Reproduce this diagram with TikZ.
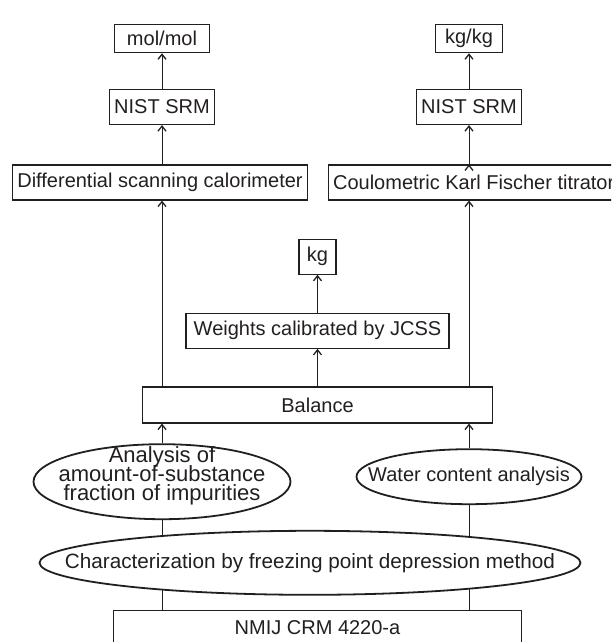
\documentclass[tikz,border=0pt]{standalone}
\usepackage{fontspec}
\setmainfont{Liberation Sans}
\usetikzlibrary{positioning,shapes.geometric,arrows.meta}
\definecolor{ink}{HTML}{231F20}
\pgfdeclarelayer{bg}
\pgfsetlayers{bg,main}

\tikzset{
  unit/.style={draw=ink,line width=1.2pt,fill=white,inner xsep=4.5pt,minimum height=35pt},
  method/.style={draw=ink,ellipse,line width=1.8pt,fill=white,inner sep=-70pt,align=center},
  link/.style={draw=ink,line width=1pt}
}

\begin{document}
\begin{tikzpicture}[x=1pt,y=-1pt,node distance=75pt,on grid,text=ink,
    font=\fontsize{20}{18.7}\selectfont,>={Straight Barb[length=5pt,width=8pt,line width=1.3pt]}]
   \useasboundingbox (0,0) rectangle (611,642);
   \clip (0,0) rectangle (611,642);

   % bottom part
   \node[unit,minimum width=408pt] (nmij) at (317.5,628) {NMIJ CRM 4220-a};
   \node[method,minimum width=541pt,minimum height=64pt,font=\fontsize{20.7}{18.7}\selectfont]
        (char) at (310,562.8) {Characterization by freezing point depression method};
   \node[method,minimum width=257pt,minimum height=75pt,
         font={\fontsize{22}{18.7}\selectfont\lineskiplimit-30pt}] (ell_l) at (162,481.7)
        {Analysis of\\amount-of-substance\\fraction of impurities\rule[-16pt]{0pt}{16pt}};
   \node[method,minimum width=225pt,minimum height=55pt] (ell_r) at (469,476.7)
        {Water content analysis};

   % balance and mass
   \node[unit,minimum width=350pt,minimum height=36pt] (balance) at (317.5,405) {Balance};
   \node[unit,minimum width=263pt](weights) [above=74.2pt of balance] {Weights calibrated by JCSS};
   \node[unit,minimum width=37pt](kg) [above=74.1pt of weights] {kg};

   % left column
   \node[unit,minimum width=105pt] (srm_l) at (162,107) {NIST SRM};
   \node[unit,minimum width=94.7pt,minimum height=28.4pt](mol) [above=68.5pt of srm_l] {mol/mol};
   \node[unit](dsc) [below=75.5pt of srm_l,xshift=-2pt] {Differential scanning calorimeter};

   % right column
   \node[unit,minimum width=102pt] (srm_r) at (469,107) {NIST SRM};
   \node[unit,minimum width=67pt,minimum height=28.4pt](kgkg) [above=68.5pt of srm_r] {kg/kg};
   \node[unit,anchor=west] (kft) at (328,182.5) {Coulometric Karl Fischer titrator};

   \begin{pgfonlayer}{bg}
     \draw[link] (nmij.center -| ell_l) -- (ell_l.center);
     \draw[link] (nmij.center -| ell_r) -- (ell_r.center);
   \end{pgfonlayer}

    \path[->,link]
    (ell_l.north) edge (balance.south -| ell_l)
    (ell_r.north) edge (balance.south -| ell_r)
    (balance.north -| ell_l) edge (dsc.south -| ell_l)
    (balance.north -| ell_r) edge (kft.south -| ell_r)
    (dsc.north -| ell_l) edge (srm_l)
    (srm_l) edge (mol)
    (kft.north -| ell_r) edge (srm_r)
    (srm_r) edge (kgkg)
    (balance) edge (weights)
    (weights) edge (kg);
\end{tikzpicture}
\end{document}
